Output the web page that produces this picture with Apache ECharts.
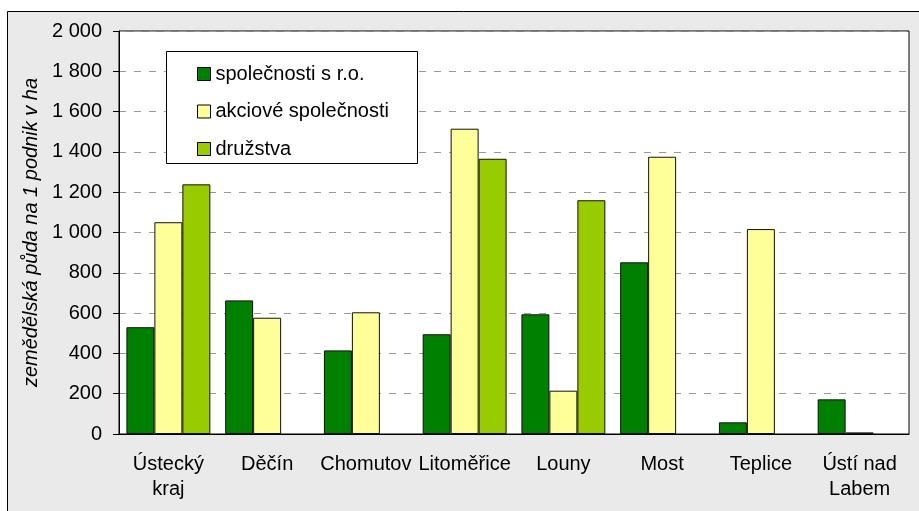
<!DOCTYPE html>
<html>
<head>
<meta charset="utf-8">
<script src="https://cdn.jsdelivr.net/npm/echarts@6/dist/echarts.min.js"></script>
<style>
  html, body { margin: 0; padding: 0; background: #fff; }
  #chart { width: 919px; height: 511px; }
</style>
</head>
<body>
<div id="chart"></div>
<script>
// data
const categories = ["Ústecký\nkraj", "Děčín", "Chomutov", "Litoměřice", "Louny", "Most", "Teplice", "Ústí nad\nLabem"];
const sro = [530, 663, 415, 495, 594, 852, 58, 172];
const akciove = [1051, 577, 604, 1515, 215, 1376, 1017, 8];
const druzstva = [1239, null, null, 1366, 1160, null, null, null];
const yTicks = { min: 0, max: 2000, interval: 200 };

const font = "Liberation Sans, Arial, sans-serif";

function spaced(v) {
  return String(v).replace(/\B(?=(\d{3})+(?!\d))/g, " ");
}

function barSeries(name, data, color) {
  return {
    name: name,
    type: "bar",
    data: data,
    barGap: "0%",
    barCategoryGap: "15%",
    itemStyle: { color: color, borderColor: "#111", borderWidth: 1 },
    emphasis: { disabled: true }
  };
}

var chart = echarts.init(document.getElementById("chart"));
chart.setOption({
  animation: false,
  textStyle: { fontFamily: font },
  graphic: [
    {
      type: "rect",
      z: -100,
      shape: { x: 7.5, y: 11.5, width: 930, height: 520 },
      style: { fill: "#eaeaea", stroke: "#000", lineWidth: 1 }
    },
    {
      type: "rect",
      z: 50,
      shape: { x: 166.5, y: 51.5, width: 251, height: 112 },
      style: { fill: "#fff", stroke: "#000", lineWidth: 1 }
    }
  ],
  grid: {
    left: 119, top: 31, right: 10, bottom: 77,
    show: true, backgroundColor: "#fff", borderColor: "#000", borderWidth: 1
  },
  legend: {
    orient: "vertical",
    left: 192, top: 59,
    z: 60,
    itemWidth: 13, itemHeight: 13, itemGap: 17.5,
    icon: "rect",
    itemStyle: { borderColor: "#000", borderWidth: 1 },
    textStyle: { fontSize: 20, color: "#000", fontFamily: font }
  },
  xAxis: {
    type: "category",
    data: categories,
    axisLine: { lineStyle: { color: "#000", width: 1 } },
    axisTick: { show: false },
    axisLabel: { interval: 0, fontSize: 20, color: "#000", margin: 18, lineHeight: 25, fontFamily: font }
  },
  yAxis: {
    type: "value",
    min: yTicks.min, max: yTicks.max, interval: yTicks.interval,
    name: "zemědělská půda na 1 podnik v ha",
    nameLocation: "middle",
    nameGap: 70,
    nameTextStyle: { fontSize: 20, fontStyle: "italic", color: "#000", fontFamily: font },
    axisLine: { show: true, lineStyle: { color: "#000", width: 1 } },
    axisTick: { show: true, length: 6, lineStyle: { color: "#000" } },
    axisLabel: { fontSize: 20, color: "#000", margin: 17, formatter: spaced, fontFamily: font },
    splitLine: { lineStyle: { color: "#999", type: [7, 8], width: 1 } }
  },
  series: [
    barSeries("společnosti s r.o.", sro, "#008000"),
    barSeries("akciové společnosti", akciove, "#ffff99"),
    barSeries("družstva", druzstva, "#99cc00")
  ]
});
</script>
</body>
</html>
